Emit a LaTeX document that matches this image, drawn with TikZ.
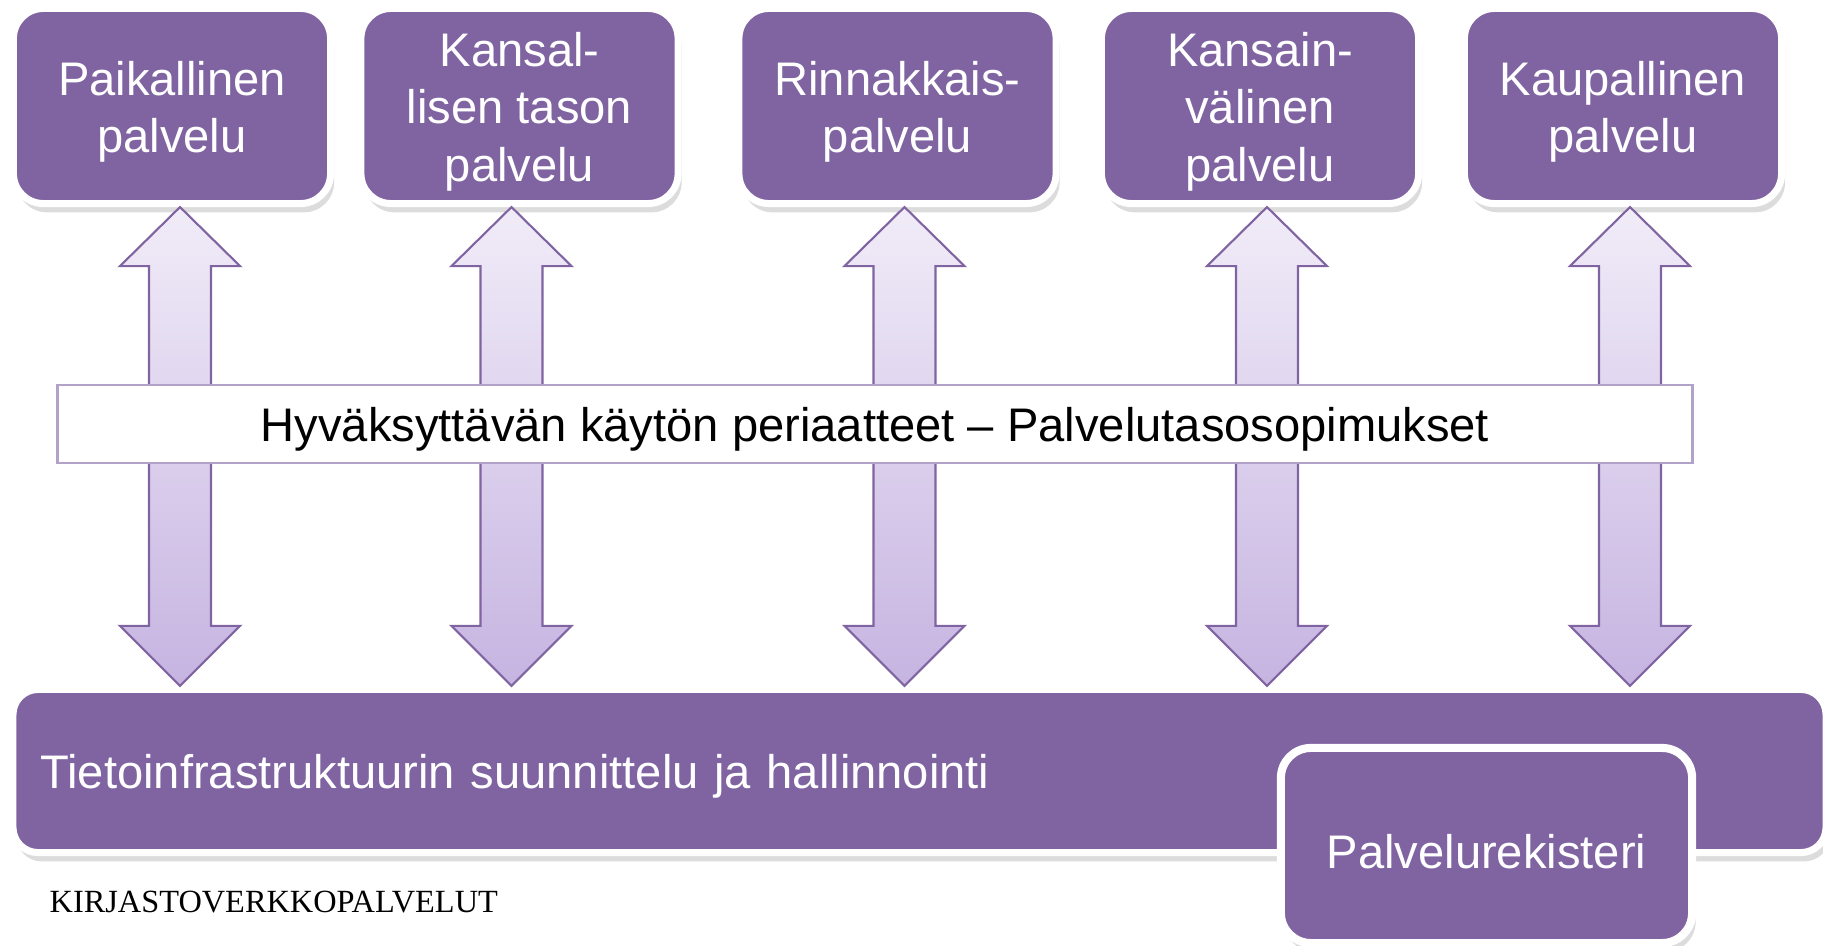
\documentclass[tikz,border=0pt]{standalone}
\usepackage{fontspec}
\setmainfont{Liberation Sans}
\newfontfamily\footfont{Liberation Serif}
\usetikzlibrary{shadows,calc}

\definecolor{boxpurple}{HTML}{8064A2}
\definecolor{bandline}{HTML}{B3A2C7}
\definecolor{arrowtop}{HTML}{F1ECF8}
\definecolor{arrowbot}{HTML}{C6B4E1}

\newcommand\topstrut{\rule{0pt}{13pt}}

\tikzset{
  boxshadow/.style={drop shadow={shadow xshift=1pt, shadow yshift=-2.5pt, opacity=0.28}},
  boxfont/.style={font=\fontsize{13.4}{16.3}\selectfont},
  service/.style={draw=white, line width=2pt, fill=boxpurple, rounded corners=0.3cm,
    minimum width=3.17cm, minimum height=1.95cm, inner sep=0pt, text=white,
    align=center, boxfont, boxshadow},
  infrabox/.style={draw=white, line width=2pt, fill=boxpurple, rounded corners=0.25cm,
    minimum width=18.12cm, minimum height=1.63cm, inner xsep=0.275cm, inner ysep=0pt,
    text width=17.57cm, align=left, text=white, boxfont, boxshadow},
  registry/.style={draw=white, line width=2.3pt, fill=boxpurple, rounded corners=0.3cm,
    minimum width=4.11cm, minimum height=1.95cm, inner sep=0pt, text=white,
    boxfont, boxshadow},
  updown/.style={draw=boxpurple, line width=0.6pt, top color=arrowtop, bottom color=arrowbot},
  band/.style={draw=bandline, line width=0.6pt, fill=white, minimum width=16.34cm,
    minimum height=0.78cm, inner sep=0pt, boxfont},
}

\begin{document}
\begin{tikzpicture}[x=0.01cm, y=-0.01cm]
  \useasboundingbox (0,0) rectangle (1823,946);

  % Service boxes
  \foreach \n/\cx/\txt in {p1/172/{Paikallinen\\palvelu},
                           p2/519.5/{Kansal-\\lisen tason\\palvelu},
                           p3/897.5/{Rinnakkais-\\palvelu},
                           p4/1260/{Kansain-\\välinen\\palvelu},
                           p5/1623/{Kaupallinen\\palvelu}} {
    \node [service] (\n) at (\cx, 106) {\topstrut\txt};
  }

  % Infrastructure
  \node [infrabox] (infra) at (919.5, 771)
        {\topstrut Tietoinfrastruktuurin suunnittelu ja hallinnointi};

  % Two-way arrows
  \foreach \b/\x in {p1/180, p2/511.5, p3/904.5, p4/1267, p5/1630} {
    \coordinate (ax) at (\x, 0);
    \path [updown] (ax |- \b.south) -- ++(60,59) -- ++(-29,0)
          -- ($(ax |- infra.north)+(31,-60)$) -- ++(29,0)
          -- (ax |- infra.north) -- ++(-60,-60) -- ++(29,0)
          -- ($(ax |- \b.south)+(-31,59)$) -- ++(-29,0) -- cycle;
  }

  % Agreements band
  \node [band] (rules) at (875, 424)
        {\topstrut Hyväksyttävän käytön periaatteet – Palvelutasosopimukset};

  % Service registry
  \node [registry] (reg) at (1486.5, 845.5) {\topstrut Palvelurekisteri};

  % Footer
  \node [anchor=west, inner sep=0pt, font=\footfont\fontsize{9.2}{11}\selectfont]
        (footer) at (49, 902) {KIRJASTOVERKKOPALVELUT};
\end{tikzpicture}
\end{document}
